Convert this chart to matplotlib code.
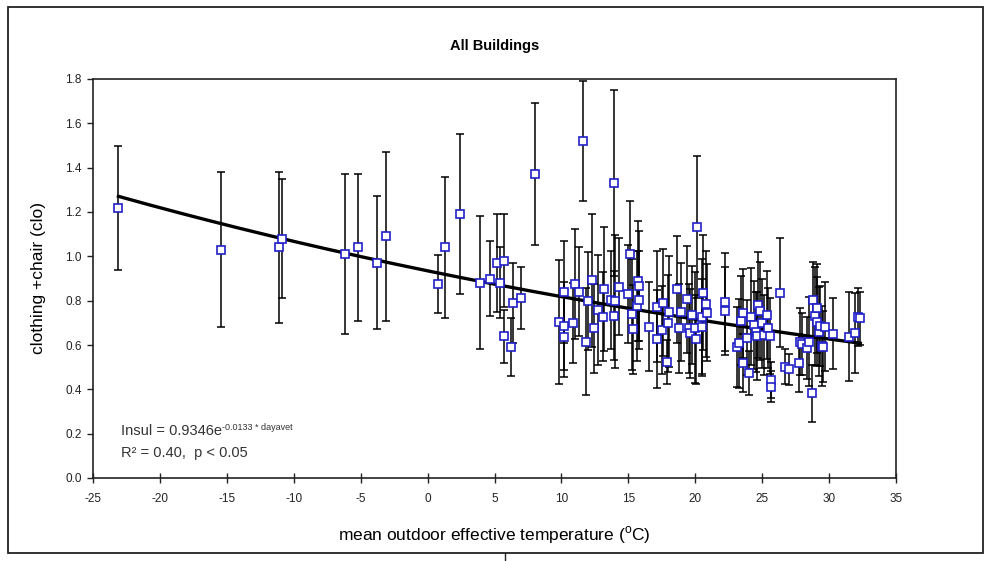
import numpy as np
import matplotlib
matplotlib.use("Agg")
import matplotlib.pyplot as plt
from matplotlib.lines import Line2D
from matplotlib.patches import Rectangle

plt.rcParams['font.family'] = ['Liberation Sans', 'DejaVu Sans']
plt.rcParams['mathtext.fontset'] = 'custom'
plt.rcParams['mathtext.rm'] = 'Liberation Sans'

# ---- data ----
temp = [-23.1, -15.4, -11.1, -10.9, -6.2, -5.2, -3.75, -3.1, 0.76, 1.3, 2.4, 3.9, 4.7,
        5.2, 5.4, 5.7, 5.7, 6.2, 6.4, 7.0, 8.0, 11.6,
        9.85, 10.2, 10.2, 10.2, 10.85, 11.0, 11.35, 11.85, 12.0, 12.3, 12.46, 12.7,
        13.1, 13.2, 13.7, 13.9, 13.94, 14.0, 14.3,
        15.0, 15.13, 15.26, 15.33, 15.63, 15.75, 15.8, 15.82, 16.57, 17.12, 17.12,
        17.5, 17.62, 17.87, 18.0, 18.07, 18.62, 18.82, 18.92, 19.42, 19.5, 19.6,
        19.73, 19.98, 20.06, 20.1, 20.47, 20.47, 20.55, 20.8, 20.85,
        22.2, 22.2, 23.1, 23.3, 23.4, 23.6, 23.6, 23.85, 24.05, 24.2, 24.4, 24.55,
        24.6, 24.72, 24.85, 24.98, 25.15, 25.35, 25.47, 25.6, 25.65, 25.65, 26.34,
        26.72, 26.97, 27.77, 27.85, 27.98, 28.35, 28.47, 28.72, 28.78, 28.96, 29.08,
        29.13, 29.28, 29.33, 29.46, 29.58, 29.7, 30.28, 31.52, 31.95, 32.13, 32.33]

clo = [1.22, 1.03, 1.04, 1.08, 1.01, 1.04, 0.97, 1.09, 0.875, 1.04, 1.19, 0.88, 0.90,
       0.97, 0.88, 0.98, 0.64, 0.59, 0.79, 0.81, 1.37, 1.52,
       0.705, 0.84, 0.686, 0.637, 0.70, 0.875, 0.84, 0.615, 0.798, 0.893, 0.675, 0.758,
       0.728, 0.851, 0.803, 0.732, 1.33, 0.798, 0.863,
       0.829, 1.009, 0.738, 0.671, 0.776, 0.889, 0.866, 0.803, 0.682, 0.773, 0.626,
       0.668, 0.791, 0.522, 0.698, 0.75, 0.851, 0.675, 0.75, 0.806, 0.675, 0.653,
       0.735, 0.678, 0.626, 1.134, 0.728, 0.68, 0.836, 0.785, 0.746,
       0.795, 0.753, 0.592, 0.607, 0.71, 0.743, 0.52, 0.633, 0.475, 0.728, 0.69, 0.66,
       0.64, 0.78, 0.753, 0.698, 0.645, 0.735, 0.678, 0.64, 0.442, 0.412, 0.836,
       0.502, 0.49, 0.52, 0.615, 0.603, 0.585, 0.615, 0.382, 0.803, 0.731, 0.765,
       0.705, 0.66, 0.686, 0.595, 0.592, 0.682, 0.65, 0.637, 0.653, 0.725, 0.72]

clo_err = [0.28, 0.35, 0.34, 0.27, 0.36, 0.33, 0.30, 0.38, 0.13, 0.32, 0.36, 0.30, 0.17,
           0.22, 0.16, 0.21, 0.12, 0.13, 0.18, 0.14, 0.32, 0.27,
           0.28, 0.23, 0.20, 0.18, 0.18, 0.25, 0.20, 0.24, 0.22, 0.30, 0.20, 0.25,
           0.20, 0.28, 0.22, 0.20, 0.42, 0.30, 0.22,
           0.22, 0.24, 0.25, 0.20, 0.25, 0.27, 0.25, 0.22, 0.20, 0.25, 0.22,
           0.20, 0.24, 0.10, 0.22, 0.25, 0.24, 0.20, 0.22, 0.24, 0.20, 0.20,
           0.22, 0.25, 0.20, 0.32, 0.26, 0.22, 0.26, 0.24, 0.22,
           0.22, 0.20, 0.18, 0.20, 0.20, 0.20, 0.13, 0.17, 0.10, 0.22, 0.20, 0.18,
           0.20, 0.24, 0.22, 0.20, 0.18, 0.20, 0.18, 0.17, 0.08, 0.07, 0.245,
           0.08, 0.07, 0.13, 0.15, 0.14, 0.14, 0.20, 0.13, 0.17, 0.22, 0.20,
           0.20, 0.20, 0.18, 0.18, 0.16, 0.20, 0.16, 0.20, 0.18, 0.13, 0.12]

fit_a = 0.9346
fit_b = -0.0133

x_ticks = [-25, -20, -15, -10, -5, 0, 5, 10, 15, 20, 25, 30, 35]
y_ticks = [0.0, 0.2, 0.4, 0.6, 0.8, 1.0, 1.2, 1.4, 1.6, 1.8]

# ---- figure ----
fig = plt.figure(figsize=(9.89, 5.61), dpi=100)
fig.patch.set_facecolor('white')
ax = fig.add_axes([93/989, 1-478/561, (896-93)/989, (478-79)/561])

ax.errorbar(temp, clo, yerr=clo_err, fmt='none', ecolor='black', elinewidth=1.1,
            capsize=3, capthick=1.1, zorder=2)

xf = np.linspace(min(temp), max(temp), 200)
ax.plot(xf, fit_a*np.exp(fit_b*xf), color='black', lw=2.4, zorder=3)

ax.plot(temp, clo, linestyle='none', marker='s', markersize=5.8, markerfacecolor='white',
        markeredgecolor='#2020c8', markeredgewidth=1.2, zorder=4)

ax.set_xlim(-25, 35)
ax.set_ylim(0, 1.8)
ax.set_xticks(x_ticks)
ax.set_xticklabels([str(v) for v in x_ticks])
ax.set_yticks(y_ticks)
ax.set_yticklabels([f"{v:.1f}" for v in y_ticks])
ax.tick_params(axis='x', direction='inout', length=7, width=1, labelsize=8.5, pad=7, colors='#222222')
ax.tick_params(axis='y', direction='out', length=4, width=1, labelsize=8.5, pad=4, colors='#222222')
for s in ax.spines.values():
    s.set_linewidth(1.2)
    s.set_color('#222222')

ax.set_title('All Buildings', fontsize=10.5, fontweight='bold', pad=21)
ax.set_xlabel(r'mean outdoor effective temperature ($^{\mathrm{o}}$C)', fontsize=12.5, labelpad=14)
ax.set_ylabel('clothing +chair (clo)', fontsize=12.5, labelpad=14)

t1 = ax.text((121-93)/803, (478-435)/399, 'Insul = 0.9346e', transform=ax.transAxes,
             fontsize=10.5, color='#333333', ha='left', va='baseline')
ax.text((121-93)/803, (478-457)/399, 'R\u00b2 = 0.40,  p < 0.05', transform=ax.transAxes,
        fontsize=10.5, color='#333333', ha='left', va='baseline')
fig.canvas.draw()
bb = t1.get_window_extent()
inv = ax.transAxes.inverted()
xe, ye = inv.transform((bb.x1, bb.y1))
ax.text(xe, ye - 0.008, '-0.0133 * dayavet', transform=ax.transAxes, fontsize=6.5,
        color='#333333', ha='left', va='center')

# outer chart frame
fig.patches.append(Rectangle((8/989, 1-553/561), (983-8)/989, (553-7)/561,
                             transform=fig.transFigure, fill=False, edgecolor='#222222', lw=1.3))
fig.lines.append(Line2D([505/989, 505/989], [0, 1-553/561], transform=fig.transFigure,
                        color='#222222', lw=1.0))

fig.savefig('out.png', dpi=100, facecolor='white')
